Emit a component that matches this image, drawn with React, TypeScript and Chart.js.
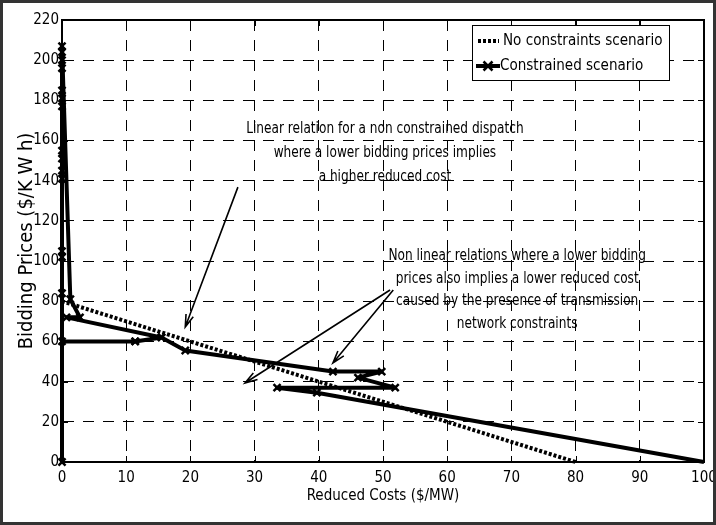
import { useEffect, useRef } from 'react'
import { Chart, registerables, Plugin } from 'chart.js'

Chart.register(...registerables)

const FONT = "'Liberation Sans Narrow', 'DejaVu Sans Condensed', 'Liberation Sans', Arial, sans-serif"

// axis ticks
const xTickValues = [0, 10, 20, 30, 40, 50, 60, 70, 80, 90, 100]
const yTickValues = [0, 20, 40, 60, 80, 100, 120, 140, 160, 180, 200, 220]

// no constraints scenario (linear)
const noConstraintX = [0, 80]
const noConstraintY = [80, 0]

// constrained scenario, in drawing order
const constrainedX = [0, 0, 0, 0, 0, 0, 0, 0, 0, 0, 0, 0, 0, 0, 0, 1.3, 2.8, 0.7, 15.5, 11.4, 0, 11.4, 15.5, 19.2, 42.2, 49.8, 46.1, 51.9, 33.5, 39.7, 100]
const constrainedY = [0, 84, 102, 105, 141, 145, 151, 155, 177, 181, 185, 196, 200, 204, 207, 81, 72, 72, 62, 60, 60, 60, 62, 55.5, 45, 45, 42, 37, 37, 34.5, 0]

// annotations
const note1Lines = [
  'Linear relation for a non constrained dispatch',
  'where a lower bidding prices implies',
  'a higher reduced cost',
]
const note1Anchor = [50.3, 165.7]
const note2Lines = [
  'Non linear relations where a lower bidding',
  'prices also implies a lower reduced cost',
  'caused by the presence of transmission',
  'network constraints',
]
const note2Anchor = [70.9, 102.5]
// arrows: [fromX, fromY, toX, toY]
const arrows = [
  [27.4, 136.8, 19.2, 67.2],
  [51.6, 85.6, 42.2, 49.3],
  [51.1, 85.6, 28.5, 39.3],
]

const legendLabels = ['No constraints scenario', 'Constrained scenario']

function drawCross(ctx: CanvasRenderingContext2D, x: number, y: number, r: number) {
  ctx.beginPath()
  ctx.moveTo(x - r, y - r)
  ctx.lineTo(x + r, y + r)
  ctx.moveTo(x - r, y + r)
  ctx.lineTo(x + r, y - r)
  ctx.stroke()
}

// condensed text, to get closer to the narrow face of the original
function narrowText(ctx: CanvasRenderingContext2D, text: string, x: number, y: number, k: number) {
  ctx.save()
  ctx.translate(x, y)
  ctx.scale(k, 1)
  ctx.fillText(text, 0, 0)
  ctx.restore()
}

const overlay: Plugin = {
  id: 'overlay',
  afterDraw(chart) {
    const { ctx, chartArea: a, scales } = chart
    const sx = scales.x
    const sy = scales.y
    ctx.save()

    // axes box
    ctx.strokeStyle = '#000'
    ctx.lineWidth = 2
    ctx.setLineDash([])
    ctx.strokeRect(a.left, a.top, a.right - a.left, a.bottom - a.top)

    // inward tick marks on all sides
    ctx.lineWidth = 1
    ctx.beginPath()
    xTickValues.forEach((v) => {
      const px = Math.round(sx.getPixelForValue(v)) + 0.5
      ctx.moveTo(px, a.bottom); ctx.lineTo(px, a.bottom - 6)
      ctx.moveTo(px, a.top); ctx.lineTo(px, a.top + 6)
    })
    yTickValues.forEach((v) => {
      const py = Math.round(sy.getPixelForValue(v)) + 0.5
      ctx.moveTo(a.left, py); ctx.lineTo(a.left + 6, py)
      ctx.moveTo(a.right, py); ctx.lineTo(a.right - 6, py)
    })
    ctx.stroke()

    // annotation texts
    ctx.fillStyle = '#000'
    ctx.font = `15px ${FONT}`
    ctx.textAlign = 'center'
    ctx.textBaseline = 'middle'
    const n1x = sx.getPixelForValue(note1Anchor[0])
    const n1y = sy.getPixelForValue(note1Anchor[1])
    note1Lines.forEach((t, i) => narrowText(ctx, t, n1x, n1y + i * 24, 0.9))
    const n2x = sx.getPixelForValue(note2Anchor[0])
    const n2y = sy.getPixelForValue(note2Anchor[1])
    note2Lines.forEach((t, i) => narrowText(ctx, t, n2x, n2y + i * 22.7, 0.9))

    // arrows
    ctx.lineWidth = 1.6
    arrows.forEach(([x0, y0, x1, y1]) => {
      const p0x = sx.getPixelForValue(x0)
      const p0y = sy.getPixelForValue(y0)
      const p1x = sx.getPixelForValue(x1)
      const p1y = sy.getPixelForValue(y1)
      const ang = Math.atan2(p1y - p0y, p1x - p0x)
      ctx.beginPath()
      ctx.moveTo(p0x, p0y)
      ctx.lineTo(p1x, p1y)
      ctx.moveTo(p1x - 13 * Math.cos(ang - 0.3), p1y - 13 * Math.sin(ang - 0.3))
      ctx.lineTo(p1x, p1y)
      ctx.lineTo(p1x - 13 * Math.cos(ang + 0.3), p1y - 13 * Math.sin(ang + 0.3))
      ctx.stroke()
    })

    // legend box
    const bx = a.right - 232
    const by = a.top + 5
    ctx.fillStyle = '#fff'
    ctx.fillRect(bx, by, 197, 55)
    ctx.strokeStyle = '#000'
    ctx.lineWidth = 1
    ctx.strokeRect(bx + 0.5, by + 0.5, 197, 55)
    ctx.fillStyle = '#000'
    ctx.font = `16px ${FONT}`
    ctx.textAlign = 'left'
    ctx.lineWidth = 4
    ctx.setLineDash([3, 2])
    ctx.beginPath()
    ctx.moveTo(bx + 6, by + 16)
    ctx.lineTo(bx + 27, by + 16)
    ctx.stroke()
    narrowText(ctx, legendLabels[0], bx + 31, by + 16, 0.94)
    ctx.setLineDash([])
    ctx.beginPath()
    ctx.moveTo(bx + 4, by + 41)
    ctx.lineTo(bx + 28, by + 41)
    ctx.stroke()
    ctx.lineWidth = 2.5
    drawCross(ctx, bx + 16, by + 41, 4.5)
    narrowText(ctx, legendLabels[1], bx + 28, by + 41, 0.94)

    // outer frame
    ctx.strokeStyle = '#333'
    ctx.lineWidth = 3
    ctx.strokeRect(1.5, 1.5, chart.width - 3, chart.height - 3)
    ctx.restore()
  },
}

export default function App() {
  const chartRef = useRef<HTMLCanvasElement>(null)
  const chartInstance = useRef<Chart | null>(null)

  useEffect(() => {
    if (!chartRef.current) return
    const ctx = chartRef.current.getContext('2d')
    if (!ctx) return
    if (chartInstance.current) chartInstance.current.destroy()

    const tickFont = { family: FONT, size: 15 }

    chartInstance.current = new Chart(ctx, {
      type: 'line',
      data: {
        datasets: [
          {
            label: legendLabels[0],
            data: noConstraintX.map((x, i) => ({ x, y: noConstraintY[i] })),
            borderColor: '#000',
            borderWidth: 4,
            borderDash: [3, 2],
            pointRadius: 0,
            fill: false,
            clip: false,
          },
          {
            label: legendLabels[1],
            data: constrainedX.map((x, i) => ({ x, y: constrainedY[i] })),
            borderColor: '#000',
            borderWidth: 4,
            borderJoinStyle: 'round',
            pointStyle: 'crossRot',
            pointRadius: (c: any) => (c.dataIndex === constrainedX.length - 1 ? 0 : 5),
            pointBorderWidth: 2.5,
            pointBorderColor: '#000',
            pointBackgroundColor: '#000',
            fill: false,
            clip: false,
          },
        ],
      },
      options: {
        animation: false,
        responsive: true,
        maintainAspectRatio: false,
        layout: { padding: { top: 20, right: 12, left: 0, bottom: 0 } },
        plugins: {
          legend: { display: false },
          tooltip: { enabled: false },
        },
        scales: {
          x: {
            type: 'linear',
            min: 0,
            max: 100,
            afterBuildTicks: (s: any) => {
              s.ticks = xTickValues.map((value) => ({ value }))
            },
            afterFit: (s: any) => {
              s.height = 63
              s.paddingLeft = 0
              s.paddingRight = 0
            },
            ticks: { font: tickFont, color: '#000', padding: 7, maxRotation: 0 },
            grid: { color: '#000', lineWidth: 1, drawTicks: false },
            border: { color: '#000', width: 2, dash: [11, 9] },
            title: {
              display: true,
              text: 'Reduced Costs ($/MW)',
              font: { family: FONT, size: 15 },
              color: '#000',
              padding: { top: 0, bottom: 20 },
            },
          },
          y: {
            type: 'linear',
            min: 0,
            max: 220,
            afterBuildTicks: (s: any) => {
              s.ticks = yTickValues.map((value) => ({ value }))
            },
            afterFit: (s: any) => {
              s.width = 62
              s.paddingTop = 0
              s.paddingBottom = 0
            },
            ticks: { font: tickFont, color: '#000', padding: 3 },
            grid: { color: '#000', lineWidth: 1, drawTicks: false },
            border: { color: '#000', width: 2, dash: [11, 9] },
            title: {
              display: true,
              text: 'Bidding Prices ($/K W h)',
              font: { family: FONT, size: 20 },
              color: '#000',
              padding: { top: 15, bottom: 0 },
            },
          },
        },
      },
      plugins: [overlay],
    })

    return () => {
      if (chartInstance.current) {
        chartInstance.current.destroy()
        chartInstance.current = null
      }
    }
  }, [])

  return (
    <div style={{ position: 'fixed', left: 0, top: 0, width: 716, height: 525, background: '#fff' }}>
      <canvas ref={chartRef}></canvas>
    </div>
  )
}
